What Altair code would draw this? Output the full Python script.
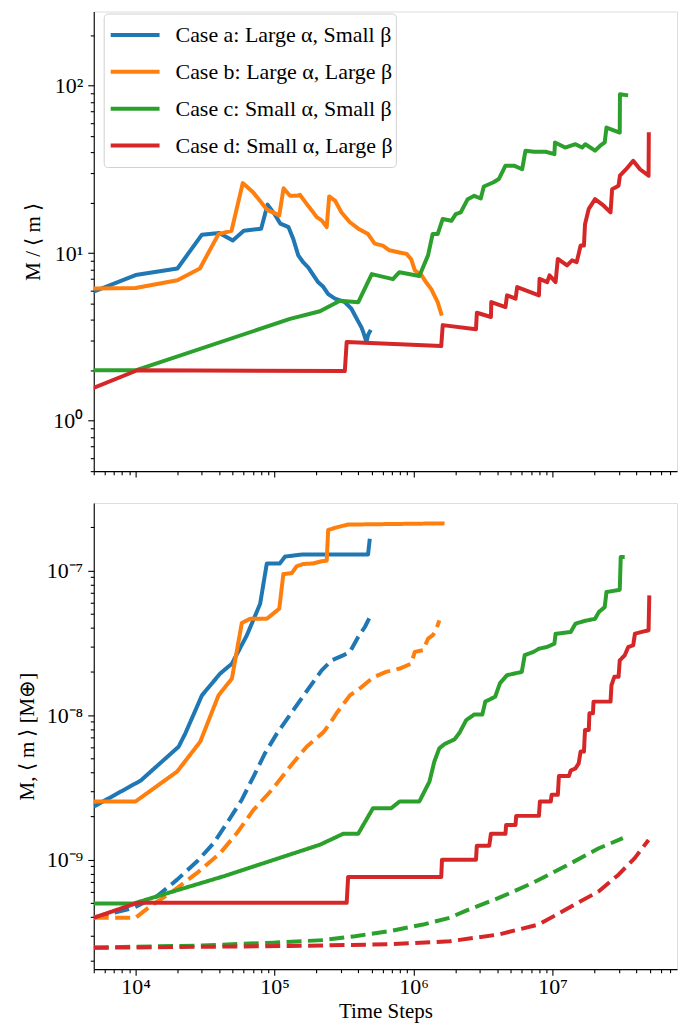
import json
import altair as alt
import pandas as pd

CASES = ["Case a: Large α, Small β", "Case b: Large α, Large β",
         "Case c: Small α, Small β", "Case d: Small α, Large β"]
COLORS = ["#1f77b4", "#ff7f0e", "#2ca02c", "#d62728"]

# ---------------- top panel: M / <m> ----------------
top_a_t = [5e3, 1.0e4, 2.0e4, 3.0e4, 4.0e4, 5.0e4, 6.0e4, 8.0e4, 8.9e4, 1.0e5, 1.1e5, 1.19e5,
           1.26e5, 1.36e5, 1.48e5, 1.61e5, 1.75e5, 1.9e5, 2.06e5, 2.24e5, 2.43e5, 2.72e5, 3.2e5,
           3.57e5, 3.78e5, 4.0e5, 4.22e5, 4.33e5, 4.58e5, 4.7e5, 4.84e5]
top_a_v = [5.9, 7.4, 8.1, 12.9, 13.2, 11.9, 13.6, 14.0, 19.5, 17.1, 15.0, 14.6,
           14.3, 12.2, 9.7, 8.8, 8.2, 7.4, 6.7, 6.3, 5.7, 5.35, 5.1,
           4.66, 4.26, 3.9, 3.6, 3.4, 2.95, 3.25, 3.4]

top_b_t = [5e3, 1.0e4, 2.0e4, 2.9e4, 3.95e4, 4.9e4, 5.9e4, 7.0e4, 8.8e4, 1.08e5, 1.16e5, 1.29e5,
           1.44e5, 1.52e5, 1.70e5, 1.85e5, 2.01e5, 2.18e5, 2.37e5, 2.47e5, 2.72e5, 3.03e5, 3.48e5,
           4.0e5, 4.7e5, 5.25e5, 6.0e5, 6.7e5, 7.9e5, 8.9e5, 9.6e5, 1.02e6, 1.14e6, 1.23e6,
           1.34e6, 1.41e6, 1.49e6, 1.58e6]
top_b_v = [6.15, 6.2, 6.9, 8.1, 13.0, 13.6, 26.2, 23.1, 18.2, 16.8, 24.4, 22.0,
           22.0, 22.3, 19.7, 18.0, 16.4, 15.7, 14.3, 21.8, 20.6, 17.5, 15.3,
           14.0, 13.0, 11.4, 11.1, 10.4, 10.1, 9.9, 9.2, 7.9, 7.4, 6.7,
           6.1, 5.6, 5.1, 4.35]

top_c_t = [5e3, 1.0e4, 1.29e5, 2.12e5, 2.95e5, 4.0e5, 5.0e5, 7.1e5, 7.9e5, 1.1e6, 1.27e6, 1.37e6,
           1.49e6, 1.62e6, 1.87e6, 2.01e6, 2.18e6, 2.45e6, 2.73e6, 3.04e6, 3.2e6, 3.76e6, 4.1e6,
           4.58e6, 5.27e6, 6.04e6, 6.38e6, 7.34e6, 8.9e6, 1.03e7, 1.04e7, 1.23e7, 1.46e7, 1.63e7,
           1.72e7, 2.02e7, 2.2e7, 2.37e7, 2.44e7, 3.04e7, 3.05e7, 3.38e7]
top_c_v = [2.0, 2.0, 4.05, 4.5, 5.2, 5.1, 7.5, 7.0, 7.7, 7.3, 9.7, 13.0,
           13.0, 16.0, 15.6, 17.1, 17.5, 21.0, 22.0, 21.2, 25.0, 26.5, 27.7,
           33.3, 33.3, 31.7, 40.9, 40.3, 40.3, 39.0, 45.8, 42.7, 44.7, 42.7,
           44.7, 40.9, 43.8, 45.8, 56.2, 52.5, 88.8, 87.8]

top_d_t = [5e3, 1.03e4, 3.2e5, 3.3e5, 1.58e6, 1.62e6, 2.81e6, 2.85e6, 3.6e6, 3.62e6, 4.58e6, 4.7e6,
           5.41e6, 5.56e6, 7.97e6, 8.05e6, 9.14e6, 9.5e6, 1.05e7, 1.09e7, 1.27e7, 1.38e7, 1.49e7,
           1.59e7, 1.68e7, 1.71e7, 1.82e7, 2.02e7, 2.33e7, 2.61e7, 2.68e7, 2.98e7, 3.05e7, 3.38e7,
           3.8e7, 4.25e7, 4.9e7, 4.92e7]
top_d_v = [1.57, 2.0, 1.98, 2.95, 2.79, 3.72, 3.51, 4.41, 4.16, 5.11, 4.77, 5.6,
           5.35, 6.28, 5.6, 7.03, 6.72, 7.37, 6.72, 9.24, 8.45, 9.06, 8.84,
           11.1, 11.1, 14.9, 18.4, 21.0, 19.2, 17.5, 24.1, 25.3, 29.0, 31.7,
           35.6, 31.7, 29.0, 51.3]

# ---------------- bottom panel: M (solid) and <m> (dashed) in Earth masses ----------------
bot_a_M_t = [5e3, 1.09e4, 2.04e4, 2.28e4, 3.0e4, 4.06e4, 4.93e4, 6.31e4, 7.87e4, 8.79e4, 1.09e5,
             1.19e5, 1.57e5, 4.7e5, 4.84e5]
bot_a_M_v = [2.33e-9, 3.53e-9, 6.05e-9, 7.48e-9, 1.37e-8, 1.94e-8, 2.27e-8, 3.56e-8, 5.89e-8,
             1.12e-7, 1.12e-7, 1.25e-7, 1.29e-7, 1.29e-7, 1.66e-7]
bot_a_m_t = [5e3, 6.6e3, 9.7e3, 1.43e4, 1.99e4, 2.77e4, 3.64e4, 4.54e4, 5.81e4, 7.05e4, 8.52e4,
             1.04e5, 1.36e5, 1.79e5, 2.18e5, 2.57e5, 3.11e5, 3.48e5, 3.99e5, 4.46e5, 4.84e5]
bot_a_m_v = [3.97e-10, 4.25e-10, 4.65e-10, 5.6e-10, 7.28e-10, 9.75e-10, 1.3e-9, 1.79e-9, 2.6e-9,
             3.76e-9, 5.44e-9, 7.48e-9, 1.08e-8, 1.57e-8, 2.04e-8, 2.39e-8, 2.59e-8, 2.73e-8,
             3.47e-8, 4.07e-8, 4.77e-8]

bot_b_M_t = [5e3, 1.0e4, 1.99e4, 2.92e4, 3.95e4, 4.93e4, 5.81e4, 6.67e4, 8.79e4, 1.08e5, 1.156e5,
             1.33e5, 1.44e5, 1.61e5, 1.9e5, 2.18e5, 2.37e5, 2.43e5, 2.86e5, 3.38e5, 5.1e5, 1.67e6]
bot_b_M_v = [2.53e-9, 2.53e-9, 4.07e-9, 6.56e-9, 1.37e-8, 1.79e-8, 4.34e-8, 4.64e-8, 4.64e-8,
             5.45e-8, 9.45e-8, 9.6e-8, 1.07e-7, 1.11e-7, 1.12e-7, 1.16e-7, 1.17e-7, 1.91e-7,
             2.0e-7, 2.08e-7, 2.09e-7, 2.12e-7]
bot_b_m_t = [5e3, 1.0e4, 1.28e4, 1.78e4, 2.77e4, 4.06e4, 5.36e4, 7.05e4, 9.55e4, 1.29e5, 1.7e5,
             2.24e5, 2.5e5, 2.79e5, 3.48e5, 4.1e5, 5.1e5, 6.33e5, 7.94e5, 9.62e5, 1.02e6, 1.17e6,
             1.27e6, 1.37e6, 1.45e6, 1.53e6]
bot_b_m_v = [3.97e-10, 3.97e-10, 4.77e-10, 5.89e-10, 8.1e-10, 1.11e-9, 1.53e-9, 2.21e-9, 3.04e-9,
             4.4e-9, 6.05e-9, 7.6e-9, 8.77e-9, 1.03e-8, 1.37e-8, 1.53e-8, 1.82e-8, 1.99e-8,
             2.1e-8, 2.27e-8, 2.74e-8, 2.81e-8, 3.38e-8, 3.56e-8, 3.86e-8, 4.52e-8]

bot_c_M_t = [5e3, 9.7e3, 1.88e4, 4.3e4, 1.09e5, 2.12e5, 3.11e5, 3.99e5, 5.1e5, 6.9e5, 7.94e5,
             1.1e6, 1.3e6, 1.41e6, 1.53e6, 1.67e6, 1.97e6, 2.14e6, 2.39e6, 2.73e6, 3.12e6, 3.28e6,
             3.86e6, 4.18e6, 4.7e6, 6.0e6, 6.3e6, 7.3e6, 7.97e6, 9.1e6, 1.03e7, 1.05e7, 1.35e7,
             1.46e7, 1.68e7, 2.02e7, 2.15e7, 2.37e7, 2.44e7, 3.04e7, 3.09e7, 3.3e7]
bot_c_M_v = [4.98e-10, 4.98e-10, 6.05e-10, 7.68e-10, 1.03e-9, 1.27e-9, 1.51e-9, 1.51e-9, 2.27e-9,
             2.27e-9, 2.53e-9, 2.53e-9, 3.47e-9, 4.78e-9, 5.89e-9, 6.31e-9, 6.8e-9, 7.56e-9,
             9.24e-9, 1.01e-8, 1.01e-8, 1.24e-8, 1.34e-8, 1.66e-8, 1.89e-8, 1.99e-8, 2.6e-8,
             2.74e-8, 2.88e-8, 2.96e-8, 3.12e-8, 3.65e-8, 3.76e-8, 4.29e-8, 4.47e-8, 4.64e-8,
             5.16e-8, 5.59e-8, 7.1e-8, 7.36e-8, 1.24e-7, 1.24e-7]
bot_c_m_t = [5e3, 3.0e4, 9.8e4, 2.24e5, 3.8e5, 6.73e5, 1.17e6, 1.82e6, 2.39e6, 4.1e6, 7.2e6,
             1.23e7, 2.15e7, 3.2e7]
bot_c_m_v = [2.47e-10, 2.55e-10, 2.67e-10, 2.78e-10, 2.96e-10, 3.21e-10, 3.56e-10, 3.97e-10,
             4.45e-10, 5.44e-10, 6.91e-10, 9.0e-10, 1.2e-9, 1.41e-9]

bot_d_M_t = [5e3, 1.03e4, 3.3e5, 3.38e5, 1.58e6, 1.6e6, 2.81e6, 2.85e6, 3.5e6, 3.6e6, 4.58e6,
             4.63e6, 5.41e6, 5.47e6, 7.97e6, 8.1e6, 9.7e6, 9.84e6, 1.09e7, 1.11e7, 1.31e7, 1.35e7,
             1.46e7, 1.54e7, 1.59e7, 1.68e7, 1.71e7, 1.82e7, 1.84e7, 1.95e7, 1.97e7, 2.61e7,
             2.65e7, 2.78e7, 2.98e7, 3.04e7, 3.3e7, 3.5e7, 3.8e7, 3.91e7, 4.67e7, 4.9e7, 4.96e7]
bot_d_M_v = [3.97e-10, 5.03e-10, 5.03e-10, 7.6e-10, 7.6e-10, 1.0e-9, 1.0e-9, 1.25e-9, 1.25e-9,
             1.51e-9, 1.51e-9, 1.74e-9, 1.74e-9, 2.01e-9, 2.01e-9, 2.53e-9, 2.53e-9, 2.81e-9,
             2.81e-9, 3.79e-9, 3.79e-9, 4.14e-9, 4.28e-9, 4.64e-9, 5.6e-9, 5.6e-9, 7.89e-9,
             7.89e-9, 1.03e-8, 1.03e-8, 1.24e-8, 1.24e-8, 1.61e-8, 1.84e-8, 1.84e-8, 2.39e-8,
             2.59e-8, 2.96e-8, 3.04e-8, 3.66e-8, 3.82e-8, 3.86e-8, 6.73e-8]
bot_d_m_t = [5e3, 1.29e5, 6.73e5, 1.82e6, 4.1e6, 7.97e6, 1.38e7, 2.15e7, 2.98e7, 3.91e7, 4.9e7]
bot_d_m_v = [2.46e-10, 2.53e-10, 2.6e-10, 2.73e-10, 3.04e-10, 3.57e-10, 4.78e-10, 6.05e-10,
             7.88e-10, 1.03e-9, 1.37e-9]

# ---------------- axes ----------------
X_DOMAIN = [5000, 7.85e7]
TOP_Y_DOMAIN = [0.5, 277]
BOT_Y_DOMAIN = [1.75e-10, 2.93e-7]
X_MAJOR = [1e4, 1e5, 1e6, 1e7]
X_LABELS = ["10⁴", "10⁵", "10⁶", "10⁷"]
TOP_Y_MAJOR = [1.0, 10.0, 100.0]
TOP_Y_LABELS = ["10⁰", "10¹", "10²"]
BOT_Y_MAJOR = [1e-9, 1e-8, 1e-7]
BOT_Y_LABELS = ["10⁻⁹", "10⁻⁸", "10⁻⁷"]

FONT = "Liberation Serif"


def tick_values(domain, decades):
    vals = []
    for d in decades:
        for m in range(1, 10):
            v = m * 10.0 ** d if m > 1 else 10.0 ** d
            if domain[0] <= v <= domain[1]:
                vals.append(v)
    return vals


def label_expr(majors, labels):
    expr = "''"
    for v, l in reversed(list(zip(majors, labels))):
        expr = f"datum.value == {v!r} ? '{l}' : {expr}"
    return expr


def tick_size(majors):
    return {"condition": {"test": f"indexof({json.dumps(majors)}, datum.value) >= 0", "value": 6},
            "value": 3.5}


def axis(majors, labels, domain, decades, title, show_labels=True, **kw):
    vals = sorted(set(tick_values(domain, decades) + majors))
    extra = {"labelExpr": label_expr(majors, labels)} if show_labels else {"labels": False}
    return alt.Axis(values=vals, tickSize=tick_size(majors), title=title, grid=False,
                    labelFont=FONT, labelFontSize=22, titleFont=FONT, titleFontSize=21,
                    titleFontWeight="normal", labelColor="black", titleColor="black",
                    tickColor="black", domainColor="black", tickWidth=1.1, domainWidth=1.1,
                    labelFlush=False, **extra, **kw)


def frame(series):
    recs = []
    i = 0
    for case, kind, ts, vs in series:
        for t, v in zip(ts, vs):
            recs.append({"t": t, "v": v, "case": case, "kind": kind, "i": i})
            i += 1
    return pd.DataFrame(recs)


top_df = frame([
    (CASES[0], "M", top_a_t, top_a_v),
    (CASES[1], "M", top_b_t, top_b_v),
    (CASES[2], "M", top_c_t, top_c_v),
    (CASES[3], "M", top_d_t, top_d_v),
])
bot_df = frame([
    (CASES[0], "M", bot_a_M_t, bot_a_M_v),
    (CASES[0], "m", bot_a_m_t, bot_a_m_v),
    (CASES[1], "M", bot_b_M_t, bot_b_M_v),
    (CASES[1], "m", bot_b_m_t, bot_b_m_v),
    (CASES[2], "M", bot_c_M_t, bot_c_M_v),
    (CASES[2], "m", bot_c_m_t, bot_c_m_v),
    (CASES[3], "M", bot_d_M_t, bot_d_M_v),
    (CASES[3], "m", bot_d_m_t, bot_d_m_v),
])

x_decades = [3, 4, 5, 6, 7]
color_scale = alt.Scale(domain=CASES, range=COLORS)

top = alt.Chart(top_df).mark_line(strokeWidth=4, strokeJoin="round", strokeCap="square", clip=True).encode(
    x=alt.X("t:Q", scale=alt.Scale(type="log", domain=X_DOMAIN, nice=False),
            axis=axis(X_MAJOR, X_LABELS, X_DOMAIN, x_decades, None, show_labels=False)),
    y=alt.Y("v:Q", scale=alt.Scale(type="log", domain=TOP_Y_DOMAIN, nice=False),
            axis=axis(TOP_Y_MAJOR, TOP_Y_LABELS, TOP_Y_DOMAIN, [-1, 0, 1, 2], "M / ⟨ m ⟩",
                      titlePadding=9, labelPadding=5)),
    color=alt.Color("case:N", scale=color_scale,
                    legend=alt.Legend(orient="none", legendX=10, legendY=2, title=None,
                                      symbolType="stroke", symbolSize=2401, symbolStrokeWidth=4,
                                      symbolOffset=2, clipHeight=37, rowPadding=0,
                                      labelFont=FONT, labelFontSize=22, labelColor="black",
                                      labelLimit=400, labelOffset=14, padding=3,
                                      strokeColor="#d0d0d0", fillColor="rgba(255,255,255,0.8)",
                                      cornerRadius=4)),
    order=alt.Order("i:Q"),
).properties(width=585, height=461)

bottom = alt.Chart(bot_df).mark_line(strokeWidth=4, strokeJoin="round", strokeCap="butt", clip=True).encode(
    x=alt.X("t:Q", scale=alt.Scale(type="log", domain=X_DOMAIN, nice=False),
            axis=axis(X_MAJOR, X_LABELS, X_DOMAIN, x_decades, "Time Steps", titlePadding=3,
                      labelPadding=1)),
    y=alt.Y("v:Q", scale=alt.Scale(type="log", domain=BOT_Y_DOMAIN, nice=False),
            axis=axis(BOT_Y_MAJOR, BOT_Y_LABELS, BOT_Y_DOMAIN, [-10, -9, -8, -7], "M, ⟨ m ⟩ [M⊕]",
                      titlePadding=9, labelPadding=5)),
    color=alt.Color("case:N", scale=color_scale, legend=None),
    strokeDash=alt.StrokeDash("kind:N", scale=alt.Scale(domain=["M", "m"], range=[[1, 0], [15, 6.5]]),
                              legend=None),
    order=alt.Order("i:Q"),
).properties(width=585, height=467.5)

chart = alt.vconcat(top, bottom, spacing=23).resolve_scale(
    color="independent", strokeDash="independent"
).resolve_legend(color="independent").properties(
    padding={"left": 7, "top": 1, "right": 5, "bottom": 5}
).configure_view(stroke="black", strokeWidth=1.1).configure(background="white")

chart.save("out.html", embed_options={"renderer": "svg", "actions": False})
